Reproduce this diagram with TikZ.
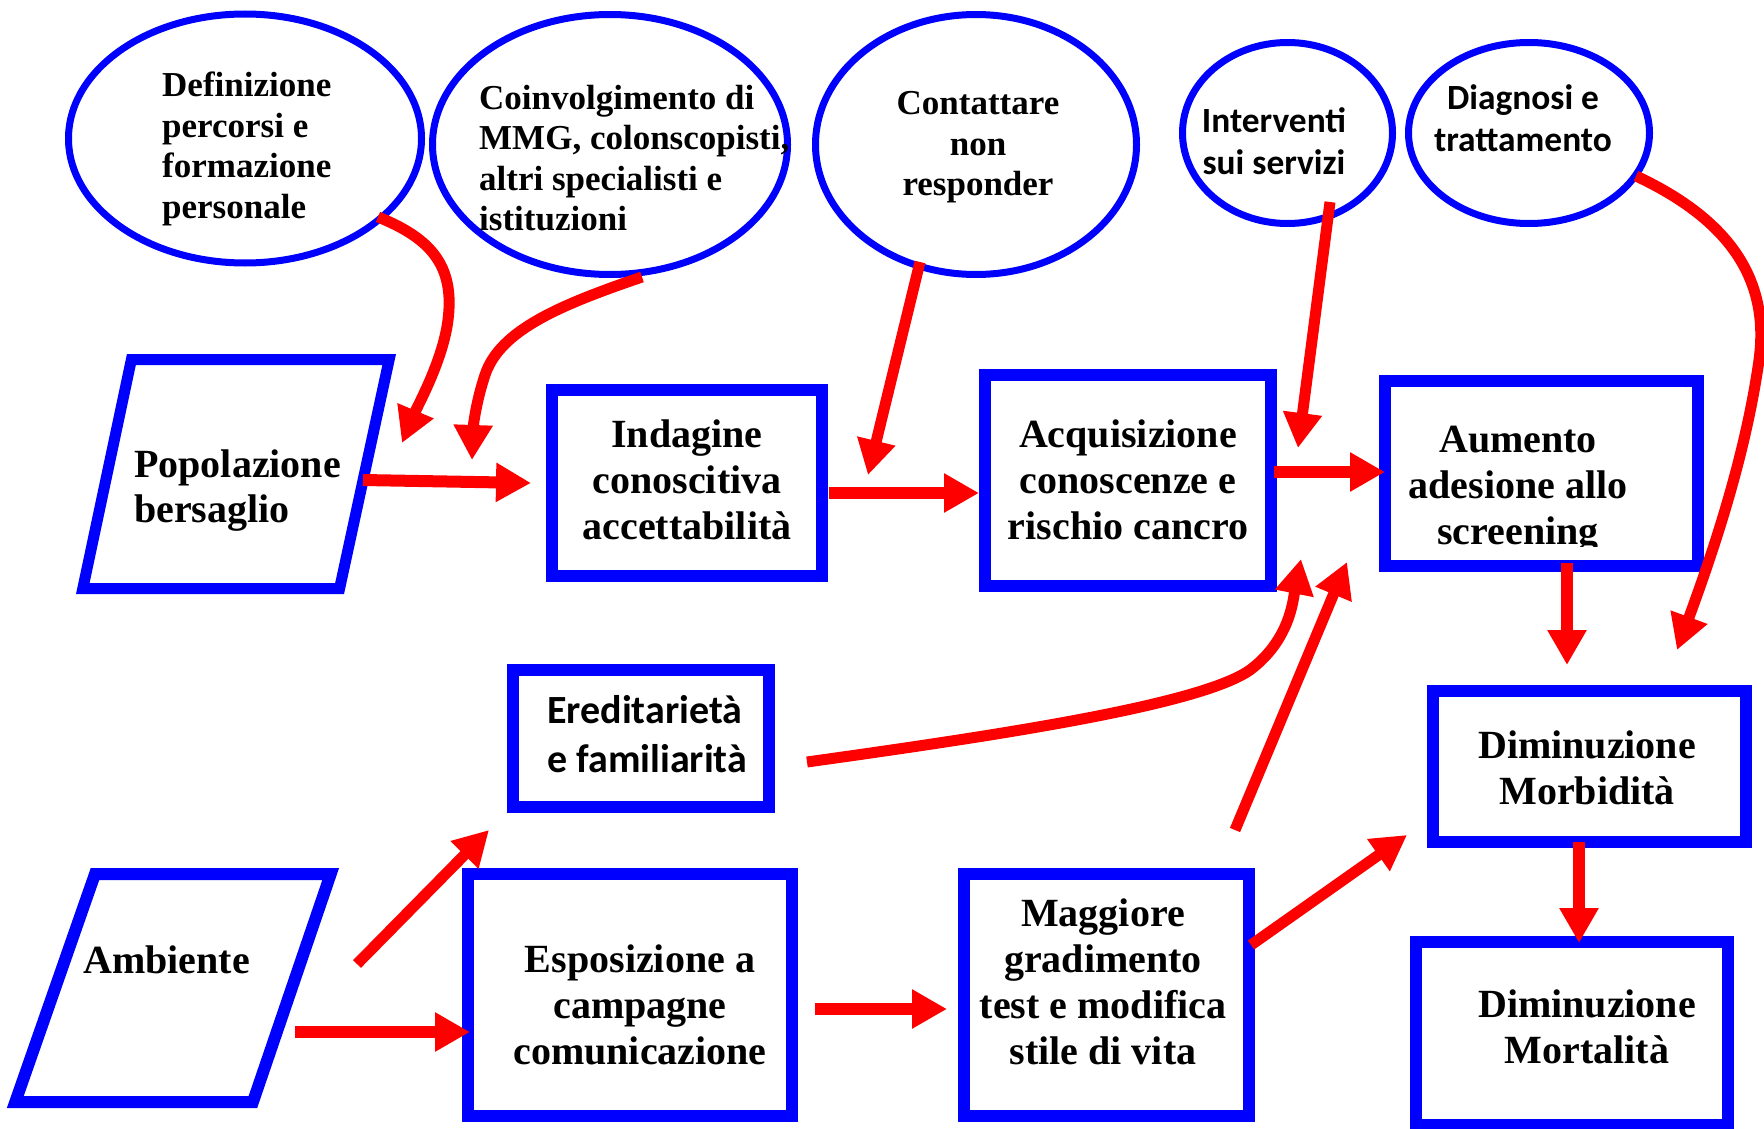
\documentclass[tikz,border=0pt]{standalone}
\usepackage{fontspec}
\setmainfont{Liberation Serif}
\newfontfamily\calfont{Carlito}
\usetikzlibrary{arrows.meta,shapes.geometric}

\definecolor{boxblue}{RGB}{0,0,255}
\definecolor{arrred}{RGB}{255,0,0}

\begin{document}
\begin{tikzpicture}[x=1pt,y=-1pt,
  box/.style={draw=boxblue, line width=12pt, rectangle, inner sep=0pt, outer sep=0pt},
  bubble/.style={draw=boxblue, line width=7pt, ellipse, inner sep=0pt, outer sep=0pt},
  para/.style={draw=boxblue, line width=11pt, line join=miter},
  flow/.style={draw=arrred, line width=12pt, -{Triangle[length=35pt,width=37pt]}},
  thinflow/.style={flow, line width=11pt},
  % text nodes are placed by the baseline of their last line
  bigtxt/.style={font=\bfseries\fontsize{40}{46}\selectfont, inner sep=0pt, align=center, anchor=base},
  smalltxt/.style={font=\bfseries\fontsize{35}{40.5}\selectfont, inner sep=0pt, align=center, anchor=base},
  caltxt/.style={font=\calfont\bfseries\fontsize{35.4}{42}\selectfont, inner sep=0pt, align=center, anchor=base},
]
\useasboundingbox (0,0) rectangle (1764,1129);

% ---------- top row: ellipses ----------
\node[bubble, minimum width=353pt, minimum height=249pt] (defin)  at (245,138.5) {};
\node[bubble, minimum width=355pt, minimum height=260pt] (coinv)  at (610,144.5) {};
\node[bubble, minimum width=321pt, minimum height=260pt] (contat) at (976,144.5) {};
\node[bubble, minimum width=210pt, minimum height=181pt] (interv) at (1287.5,133) {};
\node[bubble, minimum width=241pt, minimum height=181pt] (diagn)  at (1529,133) {};

\node[smalltxt, anchor=base west, align=left] (defin-t) at (162,218)
  {Definizione\\percorsi e\\formazione\\personale};
\node[smalltxt, anchor=base west, align=left] (coinv-t) at (479,230.5)
  {Coinvolgimento di\\MMG, colonscopisti,\\altri specialisti e\\istituzioni};
\node[smalltxt] (contat-t) at (978,195.5) {Contattare\\non\\responder};
\node[caltxt] (interv-t) at (1274,174) {Interventi\\sui servizi};
\node[caltxt] (diagn-t)  at (1523,152) {Diagnosi e\\trattamento};

% ---------- parallelograms ----------
\coordinate (pop-a) at (131.4,359.5);
\coordinate (pop-b) at (389.2,359.5);
\coordinate (pop-c) at (339.6,588.5);
\coordinate (pop-d) at (82.8,588.5);
\draw[para] (pop-a) -- (pop-b) -- (pop-c) -- (pop-d) -- cycle;
\node[bigtxt, anchor=base west, align=left, font=\bfseries\fontsize{40}{45}\selectfont] (pop-t) at (134,522)
  {Popolazione\\bersaglio};

\coordinate (amb-a) at (95,874);
\coordinate (amb-b) at (330.7,874);
\coordinate (amb-c) at (252.9,1102);
\coordinate (amb-d) at (15.3,1102);
\draw[para, line width=12pt] (amb-a) -- (amb-b) -- (amb-c) -- (amb-d) -- cycle;
\node[bigtxt, anchor=base west] (amb-t) at (83,973) {Ambiente};

% ---------- rectangles ----------
\node[box, minimum width=270pt, minimum height=186pt] (indag)  at (687,483) {};
\node[box, minimum width=286pt, minimum height=211pt] (acquis) at (1128,480.5) {};
\node[box, minimum width=313pt, minimum height=185pt] (aumen)  at (1541.5,473.5) {};
\node[box, minimum width=256pt, minimum height=137pt] (eredit) at (641,738.5) {};
\node[box, minimum width=324pt, minimum height=242pt] (espos)  at (630,995) {};
\node[box, minimum width=285pt, minimum height=242pt] (maggio) at (1106.5,995) {};
\node[box, minimum width=313pt, minimum height=151pt] (morbid) at (1589.5,766.5) {};
\node[box, minimum width=312pt, minimum height=183pt] (mortal) at (1572,1033.5) {};

\node[bigtxt] (indag-t)  at (687,539.5)  {Indagine\\conoscitiva\\accettabilità};
\node[bigtxt] (acquis-t) at (1128,539) {Acquisizione\\conoscenze e\\rischio cancro};
\begin{scope}
  \clip (1391,387) rectangle (1692,546);
  \node[bigtxt] (aumen-t) at (1518,544) {Aumento\\adesione allo\\screening};
\end{scope}
\node[caltxt, anchor=base west, align=left, font=\calfont\bfseries\fontsize{40}{49}\selectfont] (eredit-t) at (547,772)
  {Ereditarietà\\e familiarità};
\node[bigtxt] (espos-t)  at (640,1064.5)  {Esposizione a\\campagne\\comunicazione};
\node[bigtxt] (maggio-t) at (1103,1064.5) {Maggiore\\gradimento\\test e modifica\\stile di vita};
\node[bigtxt] (morbid-t) at (1587,804.5) {Diminuzione\\Morbidità};
\node[bigtxt] (mortal-t) at (1587,1063) {Diminuzione\\Mortalità};

% ---------- arrow end points ----------
\coordinate (a-pop) at (363,480);   \coordinate (a-indag-in) at (531,483);
\coordinate (a-indag) at (829,493); \coordinate (a-acq-in) at (979,493);
\coordinate (a-acq) at (1274,472);  \coordinate (a-aum-in) at (1385,472);
\coordinate (a-aum) at (1567,563);  \coordinate (a-morb-in) at (1567,665);
\coordinate (a-morb) at (1579,842); \coordinate (a-mort-in) at (1579,943);
\coordinate (a-def) at (378,217);   \coordinate (a-def-in) at (402,443);
\coordinate (a-coi) at (642,277);   \coordinate (a-coi-in) at (472,460);
\coordinate (a-con) at (920,262);   \coordinate (a-con-in) at (868,475);
\coordinate (a-int) at (1330,202);  \coordinate (a-int-in) at (1298,448);
\coordinate (a-dia) at (1636,176);  \coordinate (a-dia-in) at (1677,650);
\coordinate (a-ere) at (807,762);   \coordinate (a-ere-in) at (1301,559);
\coordinate (a-mag) at (1235,830);  \coordinate (a-mag-in) at (1347,562);
\coordinate (a-mag2) at (1251,945); \coordinate (a-mag2-in) at (1407,835);
\coordinate (a-amb) at (357,964);   \coordinate (a-amb-in) at (489,830);
\coordinate (a-amb2) at (295,1032); \coordinate (a-amb2-in) at (470,1032);
\coordinate (a-esp) at (815,1009);  \coordinate (a-esp-in) at (947,1009);

% ---------- connectors ----------
\draw[flow] (a-pop) -- (a-indag-in);
\draw[flow] (a-indag) -- (a-acq-in);
\draw[flow] (a-acq) -- (a-aum-in);
\draw[flow] (a-aum) -- (a-morb-in);
\draw[flow] (a-morb) -- (a-mort-in);
\draw[thinflow] (a-def) .. controls (430,238) and (455,265) .. (448,320)
                       .. controls (443,360) and (418,405) .. (a-def-in);
\draw[thinflow] (a-coi) .. controls (560,305) and (500,330) .. (485,375)
                       .. controls (475,405) and (473,430) .. (a-coi-in);
\draw[thinflow] (a-con) -- (a-con-in);
\draw[thinflow] (a-int) -- (a-int-in);
\draw[thinflow] (a-dia) .. controls (1730,220) and (1770,280) .. (1759,360)
                       .. controls (1745,460) and (1710,560) .. (a-dia-in);
\draw[thinflow] (a-ere) .. controls (1000,735) and (1200,705) .. (1250,670)
                       .. controls (1290,640) and (1293,600) .. (a-ere-in);
\draw[thinflow] (a-mag) -- (a-mag-in);
\draw[thinflow] (a-mag2) -- (a-mag2-in);
\draw[thinflow] (a-amb) -- (a-amb-in);
\draw[flow] (a-amb2) -- (a-amb2-in);
\draw[flow] (a-esp) -- (a-esp-in);
\end{tikzpicture}
\end{document}
